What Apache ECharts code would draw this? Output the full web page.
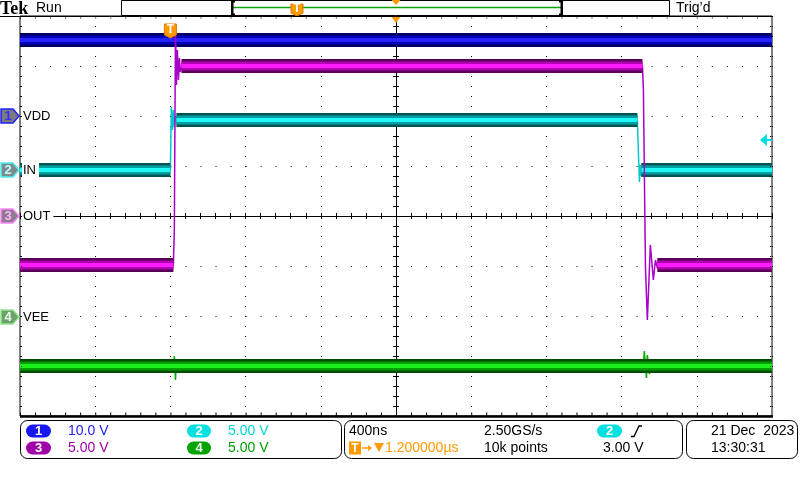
<!DOCTYPE html>
<html><head><meta charset="utf-8">
<script src="https://cdn.jsdelivr.net/npm/echarts@6/dist/echarts.min.js"></script>
<style>html,body{margin:0;padding:0;background:#fff}#c{width:800px;height:480px}</style>
</head><body><div id="c"></div>
<script>
// ---- scope settings ----
const timePerDiv = 0.4;          // µs / div (400ns)
const hPos = 1.2;                // µs, trigger -> screen centre
const chScale = [10, 5, 5, 5];   // V / div
const chPos = [2, 0.92, 0, -2.02]; // ground marker position, divisions
const chNames = ['VDD', 'IN', 'OUT', 'VEE'];
const trigLevel = 3.0;           // V on CH2

// ---- waveform vertices [µs from trigger, V] ----
const vddWave = [[-0.8, 15.2], [3.2, 15.2]];
const inWave = [[-0.8,0],[0,0],[0.005,6.3],[0.011,4.0],[0.016,6.0],[0.021,4.3],[0.027,5.4],[0.037,4.8],[0.048,5],
  [2.484,5],[2.489,2],[2.495,-1.2],[2.5,0.5],[2.505,-0.6],[2.511,0.2],[2.521,-0.1],[2.532,0],[3.2,0]];
const outWave = [[-0.8,-4.9],[0.016,-4.9],[0.021,-1.2],[0.027,18.9],[0.032,13.1],[0.037,16.6],[0.043,13.6],[0.048,15.8],
  [0.053,14.4],[0.064,15.2],[0.08,15],[2.511,15],[2.516,12.6],[2.527,-5.2],[2.537,-10.4],[2.553,-2.9],[2.569,-6.4],
  [2.58,-4.4],[2.59,-5.2],[2.612,-4.9],[3.2,-4.9]];
const veeWave = [[-0.8,-4.9],[0.016,-4.9],[0.021,-3.9],[0.027,-6.3],[0.032,-4.3],[0.037,-5.5],[0.043,-4.7],[0.053,-4.9],
  [2.516,-4.9],[2.521,-3.4],[2.532,-6.1],[2.537,-3.8],[2.548,-5.7],[2.559,-4.5],[2.569,-5],[2.58,-4.9],[3.2,-4.9]];
// settled (noisy) bands [start µs, end µs, V]
const vddBand = [[-0.8, 3.2, 15.2]];
const inBand = [[-0.8, 0, 0], [0.032, 2.484, 5], [2.505, 3.2, 0]];
const outBand = [[-0.8, 0.016, -4.9], [0.059, 2.511, 15], [2.59, 3.2, -4.9]];
const veeBand = [[-0.8, 3.2, -4.9]];

const waves = [vddWave, inWave, outWave, veeWave];
const bands = [vddBand, inBand, outBand, veeBand];
const palette = [
  {dark:'#000060', mid:'#0000b8', bright:'#2424ff', thin:'#0000ff'},
  {dark:'#005454', mid:'#00a0a0', bright:'#20f8f8', thin:'#00c8c8'},
  {dark:'#560056', mid:'#b000b0', bright:'#ff1cff', thin:'#a800c8'},
  {dark:'#004c00', mid:'#009c00', bright:'#1cf01c', thin:'#00b000'}
];

function toPt(ch, p) { return [p[0] - hPos, chPos[ch] + p[1] / chScale[ch]]; }
function bandData(ch) {
  const d = [];
  bands[ch].forEach(b => { d.push(toPt(ch, [b[0], b[2]])); d.push(toPt(ch, [b[1], b[2]])); d.push(null); });
  return d;
}

const series = [];
[0, 1, 3, 2].forEach(ch => {
  const c = palette[ch];
  const base = {type:'line', showSymbol:false, symbol:'none', silent:true, animation:false, connectNulls:false,
    xAxisIndex:0, yAxisIndex:0};
  series.push(Object.assign({}, base, {data: waves[ch].map(p => toPt(ch, p)), lineStyle:{width:1.5, color:c.thin}}));
  series.push(Object.assign({}, base, {data: bandData(ch), lineStyle:{width:14, color:c.dark, cap:'butt'}}));
  series.push(Object.assign({}, base, {data: bandData(ch), lineStyle:{width:9, color:c.mid, cap:'butt'}}));
  series.push(Object.assign({}, base, {data: bandData(ch), lineStyle:{width:4, color:c.bright, cap:'butt'}}));
});

const axisCommon = {
  type:'value', axisLabel:{show:false},
  axisLine:{show:true, onZero:true, lineStyle:{color:'#000', width:1}},
  axisTick:{show:true, inside:true, length:3, lineStyle:{color:'#000'}},
  minorTick:{show:true, splitNumber:5, length:3, lineStyle:{color:'#000'}}
};
const xHalf = timePerDiv * 5;
const option = {
  animation:false,
  grid:{left:20, top:16, width:752, height:400, show:true, borderColor:'#000', borderWidth:1, backgroundColor:'#fff'},
  xAxis:[
    Object.assign({}, axisCommon, {min:-xHalf, max:xHalf, interval:timePerDiv, position:'bottom',
      splitLine:{show:true, lineStyle:{color:'#000', width:1, type:[1, 9]}}}),
    Object.assign({}, axisCommon, {min:-xHalf, max:xHalf, interval:timePerDiv, position:'top', splitLine:{show:false}})
  ],
  yAxis:[
    Object.assign({}, axisCommon, {min:-4, max:4, interval:1, position:'left',
      splitLine:{show:true, lineStyle:{color:'#000', width:1, type:[1, 14.04]}}}),
    Object.assign({}, axisCommon, {min:-4, max:4, interval:1, position:'right', splitLine:{show:false}})
  ],
  series: series
};

const chart = echarts.init(document.getElementById('c'), null, {renderer:'canvas'});
chart.setOption(option);

const F = 'Liberation Sans';
const P = (x, y) => chart.convertToPixel({gridIndex:0}, [x, y]);
const G = [];
function txt(x, y, s, fill, size, extra) {
  G.push({type:'text', x:x, y:y, z:100, style:Object.assign({text:s, fill:fill, fontSize:size||14, fontFamily:F,
    align:'left', verticalAlign:'middle'}, extra||{})});
}
function rect(x, y, w, h, r, fill, stroke, lw) {
  G.push({type:'rect', z:90, shape:{x:x, y:y, width:w, height:h, r:r||0},
    style:{fill:fill||'none', stroke:stroke||null, lineWidth:lw||1}});
}
function line(x1, y1, x2, y2, stroke, lw, dash) {
  G.push({type:'line', z:95, shape:{x1:x1, y1:y1, x2:x2, y2:y2},
    style:{stroke:stroke, lineWidth:lw||1, lineDash:dash||null}});
}
function poly(pts, fill, stroke, lw) {
  G.push({type:'polygon', z:95, shape:{points:pts}, style:{fill:fill, stroke:stroke||null, lineWidth:lw||1}});
}
function tMarker(cx, top, h) {
  const w = 12;
  poly([[cx - w/2, top], [cx + w/2, top], [cx + w/2, top + h - 3], [cx, top + h], [cx - w/2, top + h - 3]], '#ff9a00', '#e07800', 1);
  G.push({type:'text', x:cx, y:top + (h - 3) / 2 + 0.5, z:100, style:{text:'T', fill:'#fff', fontSize:12, fontWeight:'bold',
    fontFamily:F, align:'center', verticalAlign:'middle'}});
}

// graticule edge tick dots
line(21.5, 16, 21.5, 416, '#000', 1, [1, 9]);
line(770.5, 16, 770.5, 416, '#000', 1, [1, 9]);
line(20, 18, 772, 18, '#000', 1, [1, 14.04]);
line(20, 414, 772, 414, '#000', 3, [1, 14.04]);

// header
G.push({type:'text', x:0, y:9, z:100, style:{text:'Tek', fill:'#000', fontSize:18, fontWeight:'bold',
  fontFamily:'Liberation Serif', align:'left', verticalAlign:'middle'}});
txt(36, 8, 'Run', '#000', 14);
rect(121.5, 0.5, 548, 15, 0, '#fff', '#000', 1);
line(233, 7.5, 561, 7.5, '#10a010', 1.5);
poly([[231, 1], [235, 1], [235, 2.5], [233.5, 2.5], [233.5, 13.5], [235, 13.5], [235, 15], [231, 15]], '#000');
poly([[563, 1], [559, 1], [559, 2.5], [560.5, 2.5], [560.5, 13.5], [559, 13.5], [559, 15], [563, 15]], '#000');
tMarker(297, 4, 12);
const cx0 = P(0, 0)[0];
poly([[cx0 - 4.5, 0], [cx0 + 4.5, 0], [cx0, 5]], '#ff9a00');
txt(676, 8, 'Trig\u2019d', '#000', 14);
line(0, 16.5, 772, 16.5, '#000', 1);
line(20, 416.5, 773, 416.5, '#000', 2.5);
// horizontal position marker + trigger marker in graticule
poly([[cx0 - 4.5, 17], [cx0 + 4.5, 17], [cx0, 23]], '#ff9a00');
const trigX = P(-hPos, 0)[0];
tMarker(trigX, 24, 14);

// channel ground markers + labels
const mk = [
  {fill:'#7c7c80', stroke:'#2020ff', txt:'#3030ff'},
  {fill:'#7c8c8c', stroke:'#50f0f0', txt:'#b8ffff'},
  {fill:'#8c7c8c', stroke:'#ff88ff', txt:'#ffb0ff'},
  {fill:'#6ea06e', stroke:'#90e890', txt:'#e8ffe8'}
];
chPos.forEach((pos, i) => {
  const y = P(0, pos)[1];
  poly([[1, y - 7], [13, y - 7], [19, y], [13, y + 7], [1, y + 7]], mk[i].fill, mk[i].stroke, 1.5);
  G.push({type:'text', x:8, y:y + 0.5, z:100, style:{text:String(i + 1), fill:mk[i].txt, fontSize:13,
    fontWeight:'bold', fontFamily:F, align:'center', verticalAlign:'middle'}});
  txt(22, y, chNames[i], '#000', 13, {backgroundColor:'#fff', padding:[1, 3, 1, 1]});
});

// trigger level arrow on the right
const ty = P(0, chPos[1] + trigLevel / chScale[1])[1];
poly([[760, ty], [767, ty - 6], [767, ty + 6]], '#00e0e0');
line(767, ty, 772, ty, '#00e0e0', 2);

// bottom readouts
rect(20.5, 420.5, 321, 38, 7, 'none', '#000', 1);
rect(344.5, 420.5, 338, 38, 7, 'none', '#000', 1);
rect(686.5, 420.5, 111, 38, 7, 'none', '#000', 1);
function pill(x, y, w, color, s) {
  rect(x, y, w, 13, 6.5, color, null);
  G.push({type:'text', x:x + w / 2, y:y + 7, z:100, style:{text:s, fill:'#fff', fontSize:13, fontWeight:'bold',
    fontFamily:F, align:'center', verticalAlign:'middle'}});
}
const r1 = 431, r2 = 448;
pill(26, 424.5, 25, '#1818f0', '1');
txt(68, r1, '10.0 V', '#2020ff');
pill(187, 424.5, 24, '#00e0e0', '2');
txt(228, r1, '5.00 V', '#00d4d4');
pill(26, 441.5, 25, '#a000a8', '3');
txt(68, r2, '5.00 V', '#a000a8');
pill(187, 441.5, 24, '#00a400', '4');
txt(228, r2, '5.00 V', '#00a000');

txt(349, r1, '400ns', '#000');
txt(484, r1, '2.50GS/s', '#000');
pill(597, 424.5, 25, '#00e0e0', '2');
G.push({type:'polyline', z:95, shape:{points:[[631, 436.5], [634, 436.5], [639, 426], [642, 426]]},
  style:{stroke:'#000', lineWidth:1.3, fill:null}});
rect(349, 441.5, 12, 13, 0, '#ff9a00', null);
G.push({type:'text', x:355, y:448.5, z:100, style:{text:'T', fill:'#fff', fontSize:12, fontWeight:'bold',
  fontFamily:F, align:'center', verticalAlign:'middle'}});
line(362, 448, 370, 448, '#ff9a00', 1.5);
poly([[368, 445], [372, 448], [368, 451]], '#ff9a00');
poly([[374, 443], [384, 443], [379, 452]], '#ff9a00');
txt(385, r2, '1.200000\u00b5s', '#ff9a00');
txt(484, r2, '10k points', '#000');
txt(603, r2, '3.00 V', '#000');
txt(711, r1, '21 Dec\u00a0\u00a02023', '#000');
txt(711, r2, '13:30:31', '#000');

chart.setOption({graphic: G});
</script></body></html>
